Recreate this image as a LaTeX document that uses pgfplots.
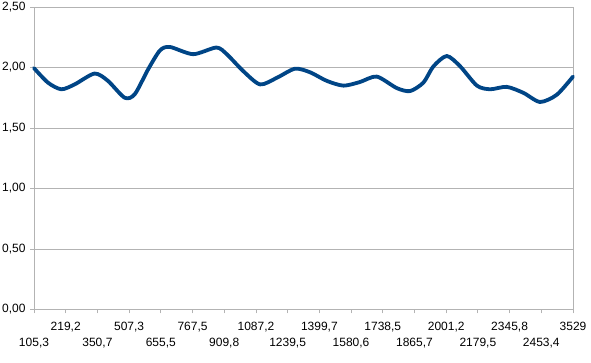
\documentclass[border=0pt]{standalone}
\usepackage{pgfplots}
\pgfplotsset{compat=1.18}
\usepackage{fontspec}
\setmainfont{Liberation Sans}
\definecolor{series}{HTML}{004586}
\definecolor{gridc}{HTML}{B3B3B3}
\begin{document}
\begin{tikzpicture}[x=1pt,y=1pt]
\path[use as bounding box] (0,0) rectangle (591,363);
\begin{axis}[
  at={(34pt,53.5pt)}, anchor=south west,
  scale only axis, width=539pt, height=302.5pt,
  xmin=0, xmax=17, ymin=0, ymax=2.5,
  axis line style={gridc, line width=0.8pt},
  tick style={gridc, line width=0.8pt},
  major tick length=4pt, tick align=outside, tick pos=left,
  ymajorgrids, grid style={gridc, line width=0.8pt},
  ytick={0,0.5,1,1.5,2,2.5},
  /pgf/number format/.cd, fixed, fixed zerofill, precision=2, use comma, assume math mode=true,
  /pgfplots/.cd,
  tick label style={font=\fontsize{12}{14}\selectfont, text=black},
  yticklabel style={xshift=-1pt},
  xticklabel style={yshift=-5pt},
  xtick={1,3,5,7,9,11,13,15,17},
  xticklabels={{219,2}, {507,3}, {767,5}, {1087,2}, {1399,7}, {1738,5}, {2001,2}, {2345,8}, {3529}},
  extra x ticks={0,2,4,6,8,10,12,14,16},
  extra x tick labels={{105,3}, {350,7}, {655,5}, {909,8}, {1239,5}, {1580,6}, {1865,7}, {2179,5}, {2453,4}},
  extra x tick style={xticklabel style={yshift=-16pt}},
  clip=false,
]
\addplot[series, line width=3.8pt, smooth, tension=0.45, line join=round, line cap=round] coordinates {
(0,1.995) (0.44,1.875) (0.86,1.82) (1.28,1.86) (1.91,1.95) (2.33,1.89)
(2.86,1.75) (3.18,1.78) (3.60,1.985) (3.97,2.14) (4.28,2.17) (5.02,2.11)
(5.75,2.165) (6.08,2.11) (6.60,1.97) (7.13,1.86) (7.66,1.915) (8.23,1.99)
(8.71,1.96) (9.23,1.89) (9.76,1.85) (10.28,1.88) (10.81,1.925) (11.44,1.83)
(11.86,1.805) (12.28,1.875) (12.60,2.01) (13.02,2.095) (13.44,2.01) (13.97,1.85)
(14.39,1.82) (14.91,1.84) (15.44,1.79) (15.96,1.715) (16.49,1.775) (17,1.925)
};
\end{axis}
\end{tikzpicture}
\end{document}
